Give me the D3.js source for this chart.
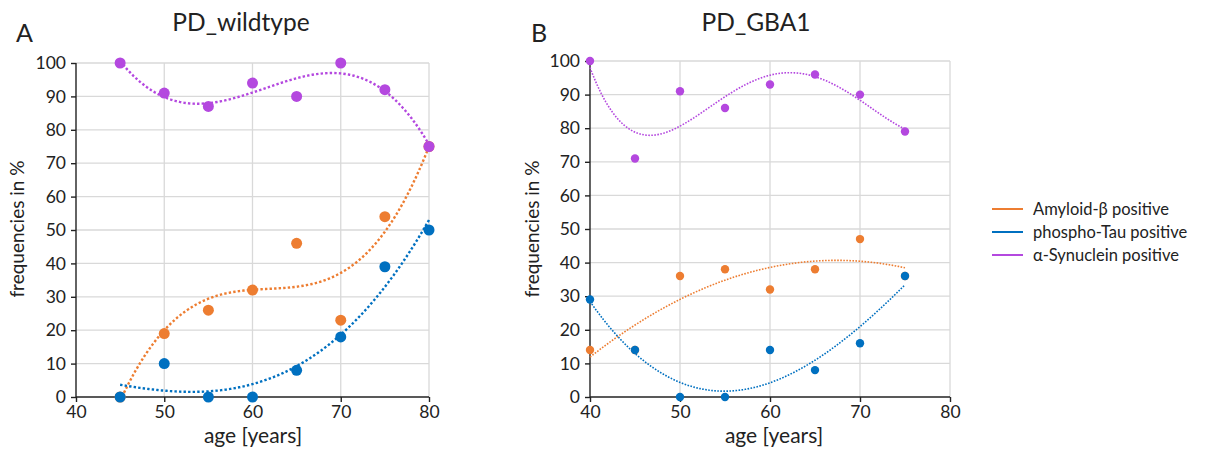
<!DOCTYPE html>
<html>
<head>
<meta charset="utf-8">
<script src="https://cdn.jsdelivr.net/npm/d3@7"></script>
<style>
  body { margin: 0; background: #fff; }
  text { font-family: Lato, "Open Sans", sans-serif; fill: #222; }
</style>
</head>
<body>
<svg id="chart" width="1207" height="449"></svg>
<script>
/*
 * Data
 */
var wtAges      = [45, 50, 55, 60, 65, 70, 75, 80],
    wtAmyloid   = [0, 19, 26, 32, 46, 23, 54, 75],
    wtTau       = [0, 10, 0, 0, 8, 18, 39, 50],
    wtSynuclein = [100, 91, 87, 94, 90, 100, 92, 75];

var gbaAges      = [40, 45, 50, 55, 60, 65, 70, 75],
    gbaAmyloid   = [14, 14, 36, 38, 32, 38, 47, 36],
    gbaTau       = [29, 14, 0, 0, 14, 8, 16, 36],
    gbaSynuclein = [100, 71, 91, 86, 93, 96, 90, 79];

var yTicks = [0, 10, 20, 30, 40, 50, 60, 70, 80, 90, 100],
    xTicks = [40, 50, 60, 70, 80];

var seriesNames = ['Amyloid-β positive', 'phospho-Tau positive', 'α-Synuclein positive'];

/*
 * Style
 */
var COL_AMY = '#ED7D31',
    COL_TAU = '#0070C0',
    COL_SYN = '#B448DF',
    GRID = '#D9D9D9';

/**
 * Least squares polynomial fit (what the excel trendline does)
 */
function polyfit(xs, ys, order) {
    var mx = d3.mean(xs);
    var n = order + 1, A = [], b = [];
    for (var i = 0; i < n; i++) {
        A.push(new Array(n).fill(0));
        b.push(0);
    }
    xs.forEach(function (x, k) {
        var u = x - mx;
        for (var i = 0; i < n; i++) {
            b[i] += ys[k] * Math.pow(u, i);
            for (var j = 0; j < n; j++) A[i][j] += Math.pow(u, i + j);
        }
    });
    // gauss elimination
    for (var c = 0; c < n; c++) {
        var p = c;
        for (var r = c + 1; r < n; r++) if (Math.abs(A[r][c]) > Math.abs(A[p][c])) p = r;
        var t = A[c]; A[c] = A[p]; A[p] = t;
        t = b[c]; b[c] = b[p]; b[p] = t;
        for (var r2 = c + 1; r2 < n; r2++) {
            var f = A[r2][c] / A[c][c];
            for (var j2 = c; j2 < n; j2++) A[r2][j2] -= f * A[c][j2];
            b[r2] -= f * b[c];
        }
    }
    var coef = new Array(n).fill(0);
    for (var i2 = n - 1; i2 >= 0; i2--) {
        var s = b[i2];
        for (var j3 = i2 + 1; j3 < n; j3++) s -= A[i2][j3] * coef[j3];
        coef[i2] = s / A[i2][i2];
    }
    return function (x) {
        var u = x - mx, v = 0;
        for (var i = 0; i < n; i++) v += coef[i] * Math.pow(u, i);
        return v;
    };
}

var svg = d3.select('#chart');

function drawPanel(opt) {
    var x = d3.scaleLinear().domain([40, 80]).range([opt.left, opt.right]),
        y = d3.scaleLinear().domain([0, 100]).range([opt.bottom, opt.top]);

    var g = svg.append('g');

    // grid
    g.selectAll('.hgrid').data(yTicks.slice(1)).enter().append('line')
        .attr('x1', opt.left).attr('x2', opt.right)
        .attr('y1', function (d) { return y(d); }).attr('y2', function (d) { return y(d); })
        .attr('stroke', GRID).attr('stroke-width', 1.3);
    g.selectAll('.vgrid').data(xTicks.slice(1)).enter().append('line')
        .attr('y1', opt.top).attr('y2', opt.bottom)
        .attr('x1', function (d) { return x(d); }).attr('x2', function (d) { return x(d); })
        .attr('stroke', GRID).attr('stroke-width', 1.3);

    // axes
    var yAxis = d3.axisLeft(y).tickValues(yTicks).tickSize(5).tickPadding(5);
    var xAxis = d3.axisBottom(x).tickValues(xTicks).tickSize(5).tickPadding(4);
    var ya = g.append('g').attr('transform', 'translate(' + opt.left + ',0)').call(yAxis);
    var xa = g.append('g').attr('transform', 'translate(0,' + opt.bottom + ')').call(xAxis);
    [ya, xa].forEach(function (a) {
        a.select('.domain').attr('stroke', '#222').attr('stroke-width', 1.4);
        a.selectAll('.tick line').attr('stroke', '#222').attr('stroke-width', 1.4);
        a.selectAll('.tick text').style('font-size', '17.5px').style('font-family', 'Lato, sans-serif').attr('fill', '#222');
    });
    ya.select('.domain').attr('d', 'M0,' + opt.bottom + 'V' + opt.top);
    xa.select('.domain').attr('d', 'M' + opt.left + ',0H' + opt.right);

    // trendlines
    var series = [
        { vals: opt.syn, col: COL_SYN, order: opt.orders[2] },
        { vals: opt.amy, col: COL_AMY, order: opt.orders[0] },
        { vals: opt.tau, col: COL_TAU, order: opt.orders[1] }
    ];
    var line = d3.line().x(function (d) { return x(d[0]); }).y(function (d) { return y(d[1]); });
    series.forEach(function (s) {
        var fit = polyfit(opt.ages, s.vals, s.order);
        var lo = d3.min(opt.ages), hi = d3.max(opt.ages);
        var pts = d3.range(lo, hi + 0.01, 0.25).map(function (a) { return [a, fit(a)]; });
        g.append('path').attr('d', line(pts))
            .attr('fill', 'none').attr('stroke', s.col)
            .attr('stroke-width', opt.lw)
            .attr('stroke-dasharray', opt.lw + ',' + opt.lw * 0.9);
    });

    // points
    [{ vals: opt.amy, col: COL_AMY }, { vals: opt.tau, col: COL_TAU }, { vals: opt.syn, col: COL_SYN }]
        .forEach(function (s) {
            g.selectAll(null).data(s.vals).enter().append('circle')
                .attr('cx', function (d, i) { return x(opt.ages[i]); })
                .attr('cy', function (d) { return y(d); })
                .attr('r', opt.r)
                .attr('fill', s.col);
        });

    // texts
    g.append('text').attr('x', opt.titleX).attr('y', 30.5).attr('text-anchor', 'middle')
        .style('font-size', '24.5px').text(opt.title);
    g.append('text').attr('x', opt.letterX).attr('y', 42)
        .style('font-size', '25px').text(opt.letter);
    g.append('text').attr('x', opt.xTitleX).attr('y', 443).attr('text-anchor', 'middle')
        .style('font-size', '21px').text('age [years]');
    g.append('text').attr('transform', 'translate(' + opt.yTitleX + ',229) rotate(-90)')
        .attr('text-anchor', 'middle').style('font-size', '19px').text('frequencies in %');
}

drawPanel({
    left: 76, right: 429, top: 63, bottom: 397,
    ages: wtAges, amy: wtAmyloid, tau: wtTau, syn: wtSynuclein,
    orders: [3, 3, 3], r: 5.5, lw: 2.4,
    title: 'PD_wildtype', titleX: 241, letter: 'A', letterX: 16,
    xTitleX: 253, yTitleX: 24
});

drawPanel({
    left: 590, right: 950, top: 61, bottom: 397,
    ages: gbaAges, amy: gbaAmyloid, tau: gbaTau, syn: gbaSynuclein,
    orders: [2, 3, 4], r: 4.2, lw: 1.6,
    title: 'PD_GBA1', titleX: 756, letter: 'B', letterX: 531,
    xTitleX: 774, yTitleX: 539
});

// legend
var legend = svg.append('g');
var legendCols = [COL_AMY, COL_TAU, COL_SYN];
seriesNames.forEach(function (name, i) {
    var ly = 209 + i * 23;
    legend.append('line').attr('x1', 992).attr('x2', 1023).attr('y1', ly).attr('y2', ly)
        .attr('stroke', legendCols[i]).attr('stroke-width', 2);
    legend.append('text').attr('x', 1033).attr('y', ly + 6)
        .style('font-size', '16.5px').text(name);
});
</script>
</body>
</html>
